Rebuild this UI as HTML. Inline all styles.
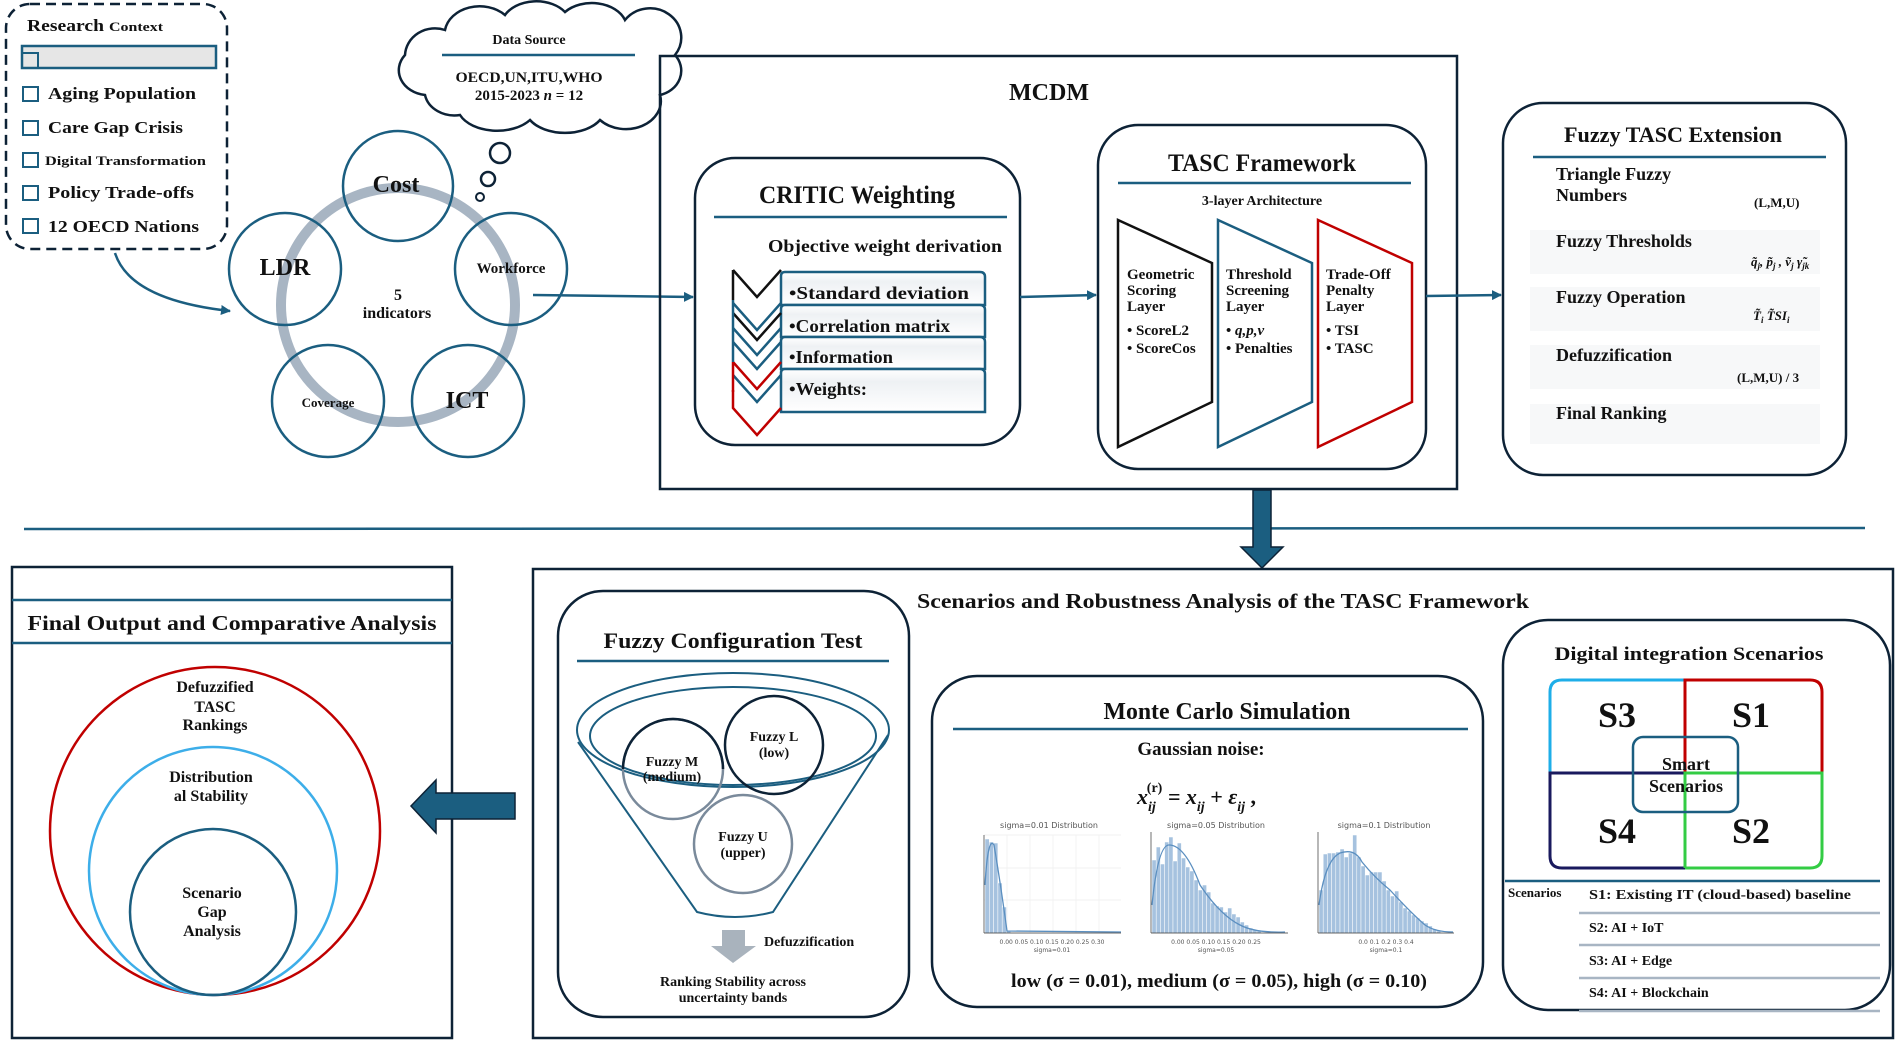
<!DOCTYPE html>
<html><head><meta charset="utf-8"><style>
html,body{margin:0;padding:0;background:#fff;}
svg{display:block;}
text{font-family:"Liberation Serif",serif;font-weight:bold;fill:#111;}
.h text{font-family:"DejaVu Sans",sans-serif;font-weight:normal;fill:#555;}
</style></head><body>
<svg width="1900" height="1045" viewBox="0 0 1900 1045" xmlns="http://www.w3.org/2000/svg">
<defs>
<marker id="ah" markerWidth="10" markerHeight="10" refX="9" refY="5" orient="auto" markerUnits="userSpaceOnUse"><path d="M0,0 L10,5 L0,10 z" fill="#1b5e80"/></marker>
<linearGradient id="rowg" x1="0" y1="0" x2="0" y2="1"><stop offset="0" stop-color="#ffffff"/><stop offset="0.3" stop-color="#eef1f4"/><stop offset="1" stop-color="#ffffff"/></linearGradient>
</defs>

<!-- Research Context -->
<rect x="6" y="4" width="221" height="245" rx="24" fill="none" stroke="#0d2236" stroke-width="2.5" stroke-dasharray="10,6"/>
<text x="27" y="31" font-size="17" textLength="77" lengthAdjust="spacingAndGlyphs">Research</text>
<text x="109" y="31" font-size="13" textLength="54" lengthAdjust="spacingAndGlyphs">Context</text>
<rect x="22" y="46" width="194" height="22" fill="#e6e6e6" stroke="#1b5e80" stroke-width="2.5"/>
<rect x="22" y="53" width="16" height="15" fill="none" stroke="#1b5e80" stroke-width="2"/>
<g fill="none" stroke="#1b5e80" stroke-width="2">
<rect x="23" y="87" width="15" height="14"/><rect x="23" y="121" width="15" height="14"/><rect x="23" y="153" width="15" height="14"/><rect x="23" y="186" width="15" height="14"/><rect x="23" y="219" width="15" height="14"/>
</g>
<text x="48" y="99" font-size="17" textLength="148" lengthAdjust="spacingAndGlyphs">Aging Population</text>
<text x="48" y="133" font-size="17" textLength="135" lengthAdjust="spacingAndGlyphs">Care Gap Crisis</text>
<text x="45" y="165" font-size="12.5" textLength="161" lengthAdjust="spacingAndGlyphs">Digital Transformation</text>
<text x="48" y="198" font-size="17" textLength="146" lengthAdjust="spacingAndGlyphs">Policy Trade-offs</text>
<text x="48" y="232" font-size="17" textLength="151" lengthAdjust="spacingAndGlyphs">12 OECD Nations</text>
<path d="M115,253 Q130,300 230,311" fill="none" stroke="#1b5e80" stroke-width="2.5" marker-end="url(#ah)"/>

<!-- Cloud -->
<path d="M425,95 A30,25 0 0 1 405,55 A30,28 0 0 1 445,30 A35,28 0 0 1 505,15 A35,25 0 0 1 565,12 A35,25 0 0 1 625,20 A30,28 0 0 1 675,55 A28,25 0 0 1 660,95 A35,28 0 0 1 600,120 A40,25 0 0 1 530,120 A40,25 0 0 1 460,115 A30,25 0 0 1 425,95 Z" fill="#fff" stroke="#0d2236" stroke-width="2.5"/>
<text x="529" y="44" font-size="14" text-anchor="middle">Data Source</text>
<line x1="442" y1="55" x2="635" y2="55" stroke="#1b5e80" stroke-width="2.5"/>
<text x="529" y="82" font-size="15" text-anchor="middle" textLength="147" lengthAdjust="spacingAndGlyphs">OECD,UN,ITU,WHO</text>
<text x="529" y="100" font-size="15" text-anchor="middle">2015-2023 <tspan font-style="italic">n</tspan> = 12</text>
<circle cx="500" cy="153" r="10" fill="#fff" stroke="#0d2236" stroke-width="2.5"/>
<circle cx="488" cy="179" r="7" fill="#fff" stroke="#0d2236" stroke-width="2.5"/>
<circle cx="480" cy="197" r="4" fill="#fff" stroke="#0d2236" stroke-width="2"/>

<!-- Indicators -->
<circle cx="398" cy="305" r="117" fill="none" stroke="#a8b5c3" stroke-width="10"/>
<g fill="none" stroke="#1b5e80" stroke-width="2.5">
<circle cx="398" cy="186" r="55"/><circle cx="285" cy="269" r="56"/><circle cx="511" cy="269" r="56"/><circle cx="328" cy="401" r="56"/><circle cx="468" cy="401" r="56"/>
</g>
<text x="396" y="192" font-size="24" text-anchor="middle">Cost</text>
<text x="285" y="275" font-size="24" text-anchor="middle">LDR</text>
<text x="511" y="273" font-size="15" text-anchor="middle">Workforce</text>
<text x="328" y="407" font-size="13" text-anchor="middle">Coverage</text>
<text x="467" y="408" font-size="24" text-anchor="middle">ICT</text>
<text x="398" y="300" font-size="16" text-anchor="middle">5</text>
<text x="397" y="318" font-size="16" text-anchor="middle">indicators</text>
<line x1="533" y1="295" x2="693" y2="297" stroke="#1b5e80" stroke-width="2.5" marker-end="url(#ah)"/>

<!-- MCDM -->
<rect x="660" y="56" width="797" height="433" fill="none" stroke="#0d2236" stroke-width="2.5"/>
<text x="1049" y="100" font-size="24" text-anchor="middle">MCDM</text>

<!-- CRITIC -->
<rect x="695" y="158" width="325" height="287" rx="40" fill="#fff" stroke="#0d2236" stroke-width="2.5"/>
<text x="857" y="203" font-size="25" text-anchor="middle" textLength="196" lengthAdjust="spacingAndGlyphs">CRITIC Weighting</text>
<line x1="714" y1="217" x2="1007" y2="217" stroke="#1b5e80" stroke-width="2.5"/>
<text x="885" y="252" font-size="18" text-anchor="middle" textLength="234" lengthAdjust="spacingAndGlyphs">Objective weight derivation</text>
<g stroke="#1b5e80" stroke-width="2.5" fill="url(#rowg)">
<path d="M781,305 V276 Q781,272 785,272 H980 Q985,272 985,277 V305 Z"/>
<path d="M781,337 V309 Q781,305 785,305 H980 Q985,305 985,310 V337 Z"/>
<path d="M781,369 V341 Q781,337 785,337 H980 Q985,337 985,342 V369 Z"/>
<path d="M781,412 V373 Q781,369 785,369 H980 Q985,369 985,374 V412 Z"/>
</g>
<text x="789" y="299" font-size="18" textLength="180" lengthAdjust="spacingAndGlyphs">•Standard deviation</text>
<text x="789" y="332" font-size="18" textLength="161" lengthAdjust="spacingAndGlyphs">•Correlation matrix</text>
<text x="789" y="363" font-size="18" textLength="104" lengthAdjust="spacingAndGlyphs">•Information</text>
<text x="789" y="395" font-size="18" textLength="78" lengthAdjust="spacingAndGlyphs">•Weights:</text>
<g fill="none" stroke-width="2.5">
<polyline points="733,270 757,297 781,270" stroke="#111"/>
<polyline points="733,303 757,330 781,303" stroke="#1b5e80"/>
<polyline points="733,313 757,340 781,313" stroke="#111"/>
<polyline points="733,328 757,355 781,328" stroke="#1b5e80"/>
<polyline points="733,342 757,369 781,342" stroke="#1b5e80"/>
<polyline points="733,362 757,389 781,362" stroke="#c00000"/>
<polyline points="733,375 757,402 781,375" stroke="#1b5e80"/>
<polyline points="733,390 733,408 757,435 781,408" stroke="#c00000"/>
<line x1="733" y1="270" x2="733" y2="300" stroke="#111"/>
<line x1="733" y1="300" x2="733" y2="362" stroke="#1b5e80"/>
<line x1="733" y1="362" x2="733" y2="392" stroke="#c00000"/>
</g>
<line x1="1020" y1="297" x2="1096" y2="295" stroke="#1b5e80" stroke-width="2.5" marker-end="url(#ah)"/>

<!-- TASC -->
<rect x="1098" y="125" width="328" height="344" rx="40" fill="#fff" stroke="#0d2236" stroke-width="2.5"/>
<text x="1262" y="171" font-size="25" text-anchor="middle" textLength="188" lengthAdjust="spacingAndGlyphs">TASC Framework</text>
<line x1="1118" y1="183" x2="1411" y2="183" stroke="#1b5e80" stroke-width="2.5"/>
<text x="1262" y="205" font-size="14" text-anchor="middle">3-layer Architecture</text>
<polygon points="1118,220 1212,263 1212,402 1118,447" fill="none" stroke="#111" stroke-width="2.5"/>
<polygon points="1218,220 1312,263 1312,402 1218,447" fill="none" stroke="#1b5e80" stroke-width="2.5"/>
<polygon points="1318,220 1412,263 1412,402 1318,447" fill="none" stroke="#c00000" stroke-width="2.5"/>
<g font-size="15">
<text x="1127" y="279">Geometric</text><text x="1127" y="295">Scoring</text><text x="1127" y="311">Layer</text>
<text x="1127" y="335">• ScoreL2</text><text x="1127" y="353">• ScoreCos</text>
<text x="1226" y="279">Threshold</text><text x="1226" y="295">Screening</text><text x="1226" y="311">Layer</text>
<text x="1226" y="335">• <tspan font-style="italic">q,p,v</tspan></text><text x="1226" y="353">• Penalties</text>
<text x="1326" y="279">Trade-Off</text><text x="1326" y="295">Penalty</text><text x="1326" y="311">Layer</text>
<text x="1326" y="335">• TSI</text><text x="1326" y="353">• TASC</text>
</g>
<line x1="1426" y1="296" x2="1501" y2="295" stroke="#1b5e80" stroke-width="2.5" marker-end="url(#ah)"/>

<!-- Fuzzy TASC Extension -->
<rect x="1503" y="103" width="343" height="372" rx="40" fill="#fff" stroke="#0d2236" stroke-width="2.5"/>
<text x="1673" y="142" font-size="22" text-anchor="middle" textLength="218" lengthAdjust="spacingAndGlyphs">Fuzzy TASC Extension</text>
<line x1="1533" y1="157" x2="1826" y2="157" stroke="#1b5e80" stroke-width="2.5"/>
<g fill="#f7f8f9"><rect x="1530" y="230" width="290" height="44"/><rect x="1530" y="287" width="290" height="44"/><rect x="1530" y="345" width="290" height="44"/><rect x="1530" y="404" width="290" height="40"/></g>
<g font-size="18">
<text x="1556" y="180">Triangle Fuzzy</text><text x="1556" y="201">Numbers</text>
<text x="1556" y="247">Fuzzy Thresholds</text>
<text x="1556" y="303">Fuzzy Operation</text>
<text x="1556" y="361">Defuzzification</text>
<text x="1556" y="419">Final Ranking</text>
</g>
<text x="1754" y="207" font-size="13">(L,M,U)</text>
<text x="1751" y="266" font-size="13" font-style="italic" font-weight="normal">q̃<tspan font-size="9" dy="3">j</tspan><tspan dy="-3">, p̃</tspan><tspan font-size="9" dy="3">j</tspan><tspan dy="-3"> , ṽ</tspan><tspan font-size="9" dy="3">j</tspan><tspan dy="-3">  γ̃</tspan><tspan font-size="9" dy="3">jk</tspan></text>
<text x="1753" y="320" font-size="13" font-style="italic" font-weight="normal">T̃<tspan font-size="9" dy="3">i</tspan><tspan dy="-3">   T̃SI</tspan><tspan font-size="9" dy="3">i</tspan></text>
<text x="1737" y="382" font-size="13">(L,M,U) / 3</text>

<!-- separator and down arrow -->
<line x1="24" y1="529" x2="1865" y2="528" stroke="#1b5e80" stroke-width="2.5"/>
<polygon points="1253,490 1271,490 1271,547 1283,547 1262,568 1241,547 1253,547" fill="#1b5e80" stroke="#0d2236" stroke-width="1.5"/>

<!-- Final Output -->
<rect x="12" y="567" width="440" height="471" fill="none" stroke="#0d2236" stroke-width="2.5"/>
<line x1="12" y1="600" x2="452" y2="600" stroke="#1b5e80" stroke-width="2.5"/>
<line x1="12" y1="643" x2="452" y2="643" stroke="#1b5e80" stroke-width="2.5"/>
<text x="232" y="630" font-size="21" text-anchor="middle" textLength="409" lengthAdjust="spacingAndGlyphs">Final Output and Comparative Analysis</text>
<ellipse cx="215" cy="831" rx="165" ry="164" fill="none" stroke="#c00000" stroke-width="2.5"/>
<ellipse cx="213" cy="871" rx="124" ry="124" fill="none" stroke="#3daee9" stroke-width="2.5"/>
<ellipse cx="213" cy="912" rx="83" ry="83" fill="none" stroke="#1b5e80" stroke-width="2.5"/>
<g font-size="16" text-anchor="middle">
<text x="215" y="692">Defuzzified</text><text x="215" y="712">TASC</text><text x="215" y="730">Rankings</text>
<text x="211" y="782">Distribution</text><text x="211" y="801">al Stability</text>
<text x="212" y="898">Scenario</text><text x="212" y="917">Gap</text><text x="212" y="936">Analysis</text>
</g>
<polygon points="515,793 515,819 436,819 436,833 411,806 436,780 436,793" fill="#1b5e80" stroke="#0d2236" stroke-width="1.5"/>

<!-- Scenarios big box -->
<rect x="533" y="569" width="1360" height="469" fill="none" stroke="#0d2236" stroke-width="2.5"/>
<text x="1223" y="608" font-size="21" text-anchor="middle" textLength="612" lengthAdjust="spacingAndGlyphs">Scenarios and Robustness Analysis of the TASC Framework</text>

<!-- Fuzzy Configuration Test -->
<rect x="558" y="591" width="351" height="426" rx="45" fill="#fff" stroke="#0d2236" stroke-width="2.5"/>
<text x="733" y="648" font-size="22" text-anchor="middle" textLength="259" lengthAdjust="spacingAndGlyphs">Fuzzy Configuration Test</text>
<line x1="577" y1="661" x2="889" y2="661" stroke="#1b5e80" stroke-width="2.5"/>
<ellipse cx="733" cy="730" rx="156" ry="57" fill="none" stroke="#1b5e80" stroke-width="2"/>
<ellipse cx="733" cy="736" rx="143" ry="49" fill="none" stroke="#1b5e80" stroke-width="2"/>
<path d="M578,742 L697,912 Q735,922 773,912 L888,735" fill="none" stroke="#1b5e80" stroke-width="2"/>
<circle cx="673" cy="769" r="50" fill="none" stroke="#7a8a9b" stroke-width="2.5"/>
<path d="M623,769 A50,50 0 0 1 723,769" fill="none" stroke="#0d2236" stroke-width="2.5"/>
<circle cx="774" cy="745" r="49" fill="none" stroke="#0d2236" stroke-width="2.5"/>
<circle cx="743" cy="844" r="49" fill="none" stroke="#7a8a9b" stroke-width="2.5"/>
<g font-size="14" text-anchor="middle">
<text x="672" y="766">Fuzzy M</text><text x="672" y="781" fill="#444">(medium)</text>
<text x="774" y="741">Fuzzy L</text><text x="774" y="757">(low)</text>
<text x="743" y="841" fill="#8a96a3">Fuzzy U</text><text x="743" y="857" fill="#8a96a3">(upper)</text>
</g>
<polygon points="722,930 745,930 745,946 756,946 733,963 711,946 722,946" fill="#a9b3bd"/>
<text x="764" y="946" font-size="14">Defuzzification</text>
<text x="733" y="986" font-size="14" text-anchor="middle">Ranking Stability across</text>
<text x="733" y="1002" font-size="14" text-anchor="middle">uncertainty bands</text>

<!-- Monte Carlo -->
<rect x="932" y="676" width="551" height="331" rx="45" fill="#fff" stroke="#0d2236" stroke-width="2.5"/>
<text x="1227" y="719" font-size="24" text-anchor="middle" textLength="247" lengthAdjust="spacingAndGlyphs">Monte Carlo Simulation</text>
<line x1="953" y1="729" x2="1468" y2="729" stroke="#1b5e80" stroke-width="2.5"/>
<text x="1201" y="755" font-size="19" text-anchor="middle">Gaussian noise:</text>
<text x="1137" y="804" font-size="22" font-style="italic">x<tspan font-size="14" dy="7">ij</tspan><tspan font-size="14" dx="-9" dy="-19" font-style="normal">(r)</tspan><tspan dy="12"> = x</tspan><tspan font-size="14" dy="7">ij</tspan><tspan dy="-7"> + ε</tspan><tspan font-size="14" dy="7">ij</tspan><tspan dy="-7" font-style="normal"> ,</tspan></text>

<g class="h">
<!-- H1 -->
<text x="1049" y="828" font-size="8" text-anchor="middle">sigma=0.01 Distribution</text>
<g stroke="#eee" stroke-width="0.7"><line x1="984" y1="835" x2="1121" y2="835"/><line x1="984" y1="868" x2="1121" y2="868"/><line x1="984" y1="900" x2="1121" y2="900"/><line x1="1007" y1="835" x2="1007" y2="933"/><line x1="1030" y1="835" x2="1030" y2="933"/><line x1="1053" y1="835" x2="1053" y2="933"/><line x1="1076" y1="835" x2="1076" y2="933"/><line x1="1099" y1="835" x2="1099" y2="933"/></g>
<g fill="#a6c2df" stroke="#fff" stroke-width="0.5">
<rect x="985" y="839" width="4.3" height="94"/><rect x="989.3" y="842" width="4.3" height="91"/><rect x="993.6" y="843" width="4.3" height="90"/><rect x="997.9" y="883" width="4.3" height="50"/><rect x="1002.2" y="907" width="4.3" height="26"/><rect x="1006.5" y="931" width="4.3" height="2"/>
</g>
<path d="M985,885 Q988,835 994,845 Q1000,880 1007,931 L1121,932" fill="none" stroke="#5b8fc0" stroke-width="1.3"/>
<line x1="984" y1="835" x2="984" y2="933" stroke="#333" stroke-width="0.7"/><line x1="984" y1="933" x2="1121" y2="933" stroke="#333" stroke-width="0.7"/>
<text x="1052" y="944" font-size="6" text-anchor="middle">0.00   0.05   0.10   0.15   0.20   0.25   0.30</text>
<text x="1052" y="952" font-size="6" text-anchor="middle">sigma=0.01</text>

<!-- H2 -->
<text x="1216" y="828" font-size="8" text-anchor="middle">sigma=0.05 Distribution</text>
<g fill="#a6c2df" stroke="#fff" stroke-width="0.5">
<rect x="1152" y="860" width="4.2" height="73"/><rect x="1156.2" y="847" width="4.2" height="86"/><rect x="1160.4" y="864" width="4.2" height="69"/><rect x="1164.6" y="842" width="4.2" height="91"/><rect x="1168.8" y="837" width="4.2" height="96"/><rect x="1173" y="861" width="4.2" height="72"/><rect x="1177.2" y="843" width="4.2" height="90"/><rect x="1181.4" y="858" width="4.2" height="75"/><rect x="1185.6" y="867" width="4.2" height="66"/><rect x="1189.8" y="871" width="4.2" height="62"/><rect x="1194" y="880" width="4.2" height="53"/><rect x="1198.2" y="890" width="4.2" height="43"/><rect x="1202.4" y="885" width="4.2" height="48"/><rect x="1206.6" y="892" width="4.2" height="41"/><rect x="1210.8" y="903" width="4.2" height="30"/><rect x="1215" y="906" width="4.2" height="27"/><rect x="1219.2" y="907" width="4.2" height="26"/><rect x="1223.4" y="912" width="4.2" height="21"/><rect x="1227.6" y="908" width="4.2" height="25"/><rect x="1231.8" y="914" width="4.2" height="19"/><rect x="1236" y="917" width="4.2" height="16"/><rect x="1240.2" y="922" width="4.2" height="11"/><rect x="1244.4" y="925" width="4.2" height="8"/><rect x="1248.6" y="928" width="4.2" height="5"/><rect x="1252.8" y="930" width="4.2" height="3"/><rect x="1257" y="931" width="4.2" height="2"/>
</g>
<path d="M1152,905 Q1158,845 1169,845 Q1185,845 1200,885 Q1220,915 1240,925 Q1255,933 1285,932" fill="none" stroke="#5b8fc0" stroke-width="1.3"/>
<line x1="1151" y1="832" x2="1151" y2="933" stroke="#333" stroke-width="0.7"/><line x1="1151" y1="933" x2="1288" y2="933" stroke="#333" stroke-width="0.7"/>
<text x="1216" y="944" font-size="6" text-anchor="middle">0.00   0.05   0.10   0.15   0.20   0.25</text>
<text x="1216" y="952" font-size="6" text-anchor="middle">sigma=0.05</text>

<!-- H3 -->
<text x="1384" y="828" font-size="8" text-anchor="middle">sigma=0.1 Distribution</text>
<g fill="#a6c2df" stroke="#fff" stroke-width="0.5">
<rect x="1319" y="890" width="4.2" height="43"/><rect x="1323.2" y="854" width="4.2" height="79"/><rect x="1327.4" y="853" width="4.2" height="80"/><rect x="1331.6" y="853" width="4.2" height="80"/><rect x="1335.8" y="852" width="4.2" height="81"/><rect x="1340" y="849" width="4.2" height="84"/><rect x="1344.2" y="857" width="4.2" height="76"/><rect x="1348.4" y="853" width="4.2" height="80"/><rect x="1352.6" y="835" width="4.2" height="98"/><rect x="1356.8" y="857" width="4.2" height="76"/><rect x="1361" y="866" width="4.2" height="67"/><rect x="1365.2" y="875" width="4.2" height="58"/><rect x="1369.4" y="872" width="4.2" height="61"/><rect x="1373.6" y="872" width="4.2" height="61"/><rect x="1377.8" y="872" width="4.2" height="61"/><rect x="1382" y="881" width="4.2" height="52"/><rect x="1386.2" y="890" width="4.2" height="43"/><rect x="1390.4" y="896" width="4.2" height="37"/><rect x="1394.6" y="891" width="4.2" height="42"/><rect x="1398.8" y="902" width="4.2" height="31"/><rect x="1403" y="908" width="4.2" height="25"/><rect x="1407.2" y="911" width="4.2" height="22"/><rect x="1411.4" y="915" width="4.2" height="18"/><rect x="1415.6" y="918" width="4.2" height="15"/><rect x="1419.8" y="921" width="4.2" height="12"/><rect x="1424" y="923" width="4.2" height="10"/><rect x="1428.2" y="926" width="4.2" height="7"/><rect x="1432.4" y="929" width="4.2" height="4"/><rect x="1436.6" y="931" width="4.2" height="2"/>
</g>
<path d="M1319,905 Q1325,860 1340,853 Q1355,848 1362,862 Q1375,878 1390,890 Q1410,912 1425,925 Q1435,932 1453,932" fill="none" stroke="#5b8fc0" stroke-width="1.3"/>
<line x1="1318" y1="832" x2="1318" y2="933" stroke="#333" stroke-width="0.7"/><line x1="1318" y1="933" x2="1454" y2="933" stroke="#333" stroke-width="0.7"/>
<text x="1386" y="944" font-size="6" text-anchor="middle">0.0      0.1      0.2      0.3      0.4</text>
<text x="1386" y="952" font-size="6" text-anchor="middle">sigma=0.1</text>
</g>
<text x="1219" y="987" font-size="19" text-anchor="middle" textLength="416" lengthAdjust="spacingAndGlyphs">low (σ = 0.01), medium (σ = 0.05), high (σ = 0.10)</text>

<!-- Digital integration -->
<rect x="1503" y="620" width="387" height="390" rx="45" fill="#fff" stroke="#0d2236" stroke-width="2.5"/>
<text x="1689" y="660" font-size="19" text-anchor="middle" textLength="269" lengthAdjust="spacingAndGlyphs">Digital integration Scenarios</text>
<path d="M1685,680 H1562 Q1550,680 1550,692 V773" fill="none" stroke="#1eaee8" stroke-width="3"/>
<path d="M1685,773 V680 H1810 Q1822,680 1822,692 V773" fill="none" stroke="#c00000" stroke-width="3"/>
<path d="M1685,773 H1550 V856 Q1550,868 1562,868 H1685" fill="none" stroke="#1a1a5e" stroke-width="3"/>
<path d="M1685,868 V773 H1822 V856 Q1822,868 1810,868 H1685" fill="none" stroke="#33cc44" stroke-width="3"/>
<g font-size="36" text-anchor="middle">
<text x="1617" y="727">S3</text><text x="1751" y="727">S1</text><text x="1617" y="843">S4</text><text x="1751" y="843">S2</text>
</g>
<rect x="1633" y="737" width="105" height="75" rx="10" fill="none" stroke="#1b5e80" stroke-width="2.5"/>
<text x="1686" y="770" font-size="18" text-anchor="middle">Smart</text>
<text x="1686" y="792" font-size="18" text-anchor="middle">Scenarios</text>
<line x1="1505" y1="881" x2="1880" y2="881" stroke="#1b5e80" stroke-width="2.5"/>
<g stroke="#a8b5c3" stroke-width="2.5"><line x1="1579" y1="913" x2="1880" y2="913"/><line x1="1579" y1="945" x2="1880" y2="945"/><line x1="1579" y1="978" x2="1880" y2="978"/><line x1="1579" y1="1011" x2="1880" y2="1011"/></g>
<text x="1508" y="897" font-size="13">Scenarios</text>
<g font-size="14">
<text x="1589" y="899" textLength="262" lengthAdjust="spacingAndGlyphs">S1: Existing IT (cloud-based) baseline</text>
<text x="1589" y="932">S2: AI + IoT</text>
<text x="1589" y="965">S3: AI + Edge</text>
<text x="1589" y="997">S4: AI + Blockchain</text>
</g>
</svg>
</body></html>
